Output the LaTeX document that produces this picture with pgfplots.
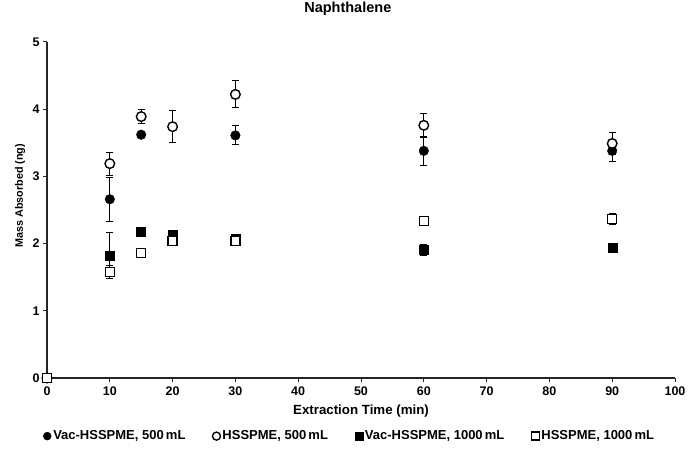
\documentclass[border=0pt]{standalone}
\usepackage{fontspec}
\setmainfont{Liberation Sans}
\usepackage{pgfplots}
\pgfplotsset{compat=1.18}

\begin{document}
\begin{tikzpicture}
\path[use as bounding box] (0,0) rectangle (689pt,450pt);
\begin{axis}[
    at={(47pt,72pt)}, anchor=south west,
    scale only axis,
    width=628pt, height=336pt,
    xmin=0, xmax=100, ymin=0, ymax=5,
    xtick={0,10,...,100}, ytick={0,1,...,5},
    axis lines=left,
    axis line style={-, line width=1.2pt, black!85},
    tick style={line width=1pt, black!85},
    tick align=outside,
    major tick length=4pt,
    clip=false,
    /pgf/number format/assume math mode=true,
    ticklabel style={font=\bfseries\fontsize{12.5}{14}\selectfont},
    xticklabel style={yshift=-1pt},
    title={Naphthalene},
    title style={at={(0.479,1)}, anchor=center, yshift=27pt, font=\bfseries\fontsize{14.5}{16}\selectfont},
    xlabel={Extraction Time (min)},
    xlabel style={at={(0.5,-0.098)}, anchor=center, font=\bfseries\fontsize{13.3}{15}\selectfont},
    ylabel={Mass Absorbed (ng)},
    ylabel style={at={(-0.043,0.542)}, anchor=center, font=\bfseries\fontsize{10.8}{12}\selectfont},
    legend style={at={(0.482,-0.173)}, anchor=center, draw=none, fill=none,
        font=\bfseries\fontsize{13}{14}\selectfont,
        /tikz/every even column/.append style={column sep=25pt},
        /tikz/every odd column/.append style={column sep=0pt}},
    legend columns=4,
    legend image code/.code={\draw[#1, mark size=4pt] plot coordinates {(0pt,0pt)};},
    error bars/y dir=both,
    error bars/y explicit,
    error bars/error bar style={line width=1pt, black},
    error bars/error mark options={rotate=90, mark size=3.5pt, line width=1pt, black},
]
% Vac-HSSPME, 500 mL
\addplot[only marks, mark=*, mark size=4.8pt, mark options={fill=black, draw=black}]
coordinates {(0,0) +- (0,0) (10,2.66) +- (0,0.33) (15,3.62) +- (0,0.02) (30,3.61) +- (0,0.14)
             (60,3.38) +- (0,0.22) (90,3.38) +- (0,0.16)};
% HSSPME, 500 mL
\addplot[only marks, mark=*, mark size=4.8pt, mark options={fill=white, draw=black, line width=1.4pt}]
coordinates {(0,0) +- (0,0) (10,3.19) +- (0,0.17) (15,3.89) +- (0,0.1) (20,3.74) +- (0,0.24)
             (30,4.22) +- (0,0.2) (60,3.76) +- (0,0.18) (90,3.49) +- (0,0.17)};
% Vac-HSSPME, 1000 mL
\addplot[only marks, mark=square*, mark size=4.5pt, mark options={fill=black, draw=black}]
coordinates {(0,0) +- (0,0) (10,1.82) +- (0,0.34) (15,2.18) +- (0,0.02) (20,2.13) +- (0,0.05)
             (30,2.08) +- (0,0.04) (60,1.91) +- (0,0.08) (90,1.94) +- (0,0.03)};
% HSSPME, 1000 mL
\addplot[only marks, mark=square*, mark size=4.5pt, mark options={fill=white, draw=black, line width=1.4pt}]
coordinates {(0,0) +- (0,0) (10,1.58) +- (0,0.1) (15,1.86) +- (0,0.05) (20,2.04) +- (0,0.06)
             (30,2.04) +- (0,0.05) (60,2.34) +- (0,0.03) (90,2.37) +- (0,0.08)};
\legend{{Vac-HSSPME, 500\,mL}, {HSSPME, 500\,mL}, {Vac-HSSPME, 1000\,mL}, {HSSPME, 1000\,mL}}
\end{axis}
\end{tikzpicture}
\end{document}
